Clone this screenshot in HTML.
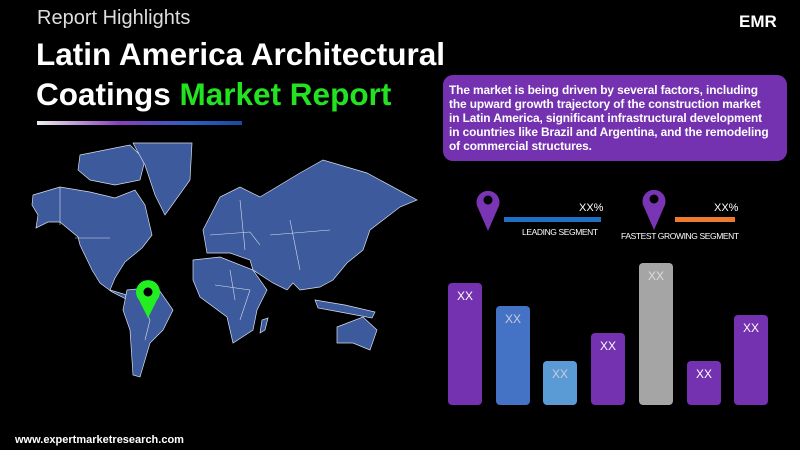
<!DOCTYPE html>
<html><head><meta charset="utf-8"><style>
body{margin:0;width:800px;height:450px;background:#000;overflow:hidden;position:relative;font-family:"Liberation Sans",sans-serif;color:#fff}
.a{position:absolute;white-space:nowrap}
.bar{position:absolute;border-radius:4px;bottom:45px;width:34px;text-align:center;font-size:12px;padding-top:6px;box-sizing:border-box}
</style></head><body>
<div class="a" style="left:37px;top:7px;font-size:20px;font-weight:300;color:#ddd">Report Highlights</div>
<div class="a" style="left:36px;top:34px;font-size:31.5px;font-weight:bold;line-height:40px">Latin America Architectural<br>Coatings <span style="color:#22e222">Market Report</span></div>
<div class="a" style="left:37px;top:121px;width:205px;height:4px;background:linear-gradient(90deg,#eee,#8a3fc0 40%,#2a60c0 75%,#1a4aa0)"></div>
<div class="a" style="left:739px;top:12px;font-size:17px;font-weight:bold">EMR</div>
<div class="a" style="left:443px;top:75px;width:344px;height:86px;background:#7432b0;border-radius:10px"></div>
<div class="a" style="left:449px;top:83px;font-size:11.9px;font-weight:bold;line-height:14px;letter-spacing:-0.1px">The market is being driven by several factors, including<br>the upward growth trajectory of the construction market<br>in Latin America, significant infrastructural development<br>in countries like Brazil and Argentina, and the remodeling<br>of commercial structures.</div>
<svg class="a" style="left:0;top:0" width="800" height="450">
<g fill="#3d5a9c" stroke="#d8e0f0" stroke-width="0.7">
<polygon points="80,155 130,145 145,160 140,180 115,185 90,180 78,170"/>
<polygon points="133,143 192,143 190,180 165,215 155,195 145,165"/>
<polygon points="33,195 60,187 90,192 115,198 135,190 145,205 152,235 142,248 125,262 115,278 110,290 130,296 135,300 128,300 112,292 100,283 92,270 80,245 78,237 60,222 48,222 36,228 38,215 32,205"/>
<polygon points="127,290 157,287 173,310 163,330 150,343 140,377 133,375 130,330 123,310"/>
<polygon points="203,230 220,197 240,187 260,197 300,173 323,160 367,173 417,200 400,207 370,230 363,250 347,263 333,280 320,287 300,290 293,283 287,290 273,283 253,270 250,260 230,253 207,253"/>
<polygon points="193,260 220,257 253,270 267,290 257,310 253,330 233,343 227,317 200,297 193,280"/>
<polygon points="337,327 363,317 377,330 370,350 353,343 337,343"/>
<polygon points="315,300 345,305 375,312 372,318 340,312 318,308"/>
<polygon points="268,318 265,330 260,333 262,320"/>
</g>
<g stroke="#d8e0f0" stroke-width="0.6" fill="none">
<path d="M60,187 L60,225 M75,238 L110,238 M210,235 L250,232 L260,245 M240,200 L245,250 M270,235 L330,230 M290,220 L300,270 M215,285 L250,290 L240,320 M140,300 L150,320 L145,340 M230,270 L235,300"/>
</g>
<path d="M148,318 L139,300 A12,12 0 1 1 157,300 Z" fill="#22ee22"/><circle cx="148" cy="292" r="4.5" fill="#000"/>
<path d="M488,231 L478,208 A11.5,11.5 0 1 1 498,208 Z" fill="#7a35b5"/><circle cx="488" cy="200" r="4.5" fill="#000"/>
<path d="M654,230 L644,207 A11.5,11.5 0 1 1 664,207 Z" fill="#7a35b5"/><circle cx="654" cy="199" r="4.5" fill="#000"/>
</svg>
<div class="a" style="left:504px;top:217px;width:97px;height:5px;background:#1f6fc4"></div>
<div class="a" style="left:675px;top:217px;width:60px;height:5px;background:#ee7a30"></div>
<div class="a" style="left:579px;top:202px;font-size:11px">XX%</div>
<div class="a" style="left:714px;top:202px;font-size:11px">XX%</div>
<div class="a" style="left:522px;top:227px;font-size:8.5px;letter-spacing:-0.4px">LEADING SEGMENT</div>
<div class="a" style="left:621px;top:231px;font-size:8.5px;letter-spacing:-0.4px">FASTEST GROWING SEGMENT</div>
<div class="bar" style="left:448px;top:283px;background:#7432b0">XX</div>
<div class="bar" style="left:496px;top:306px;background:#4472c4;color:#ccd">XX</div>
<div class="bar" style="left:543px;top:361px;background:#5b9bd5;color:#ccd">XX</div>
<div class="bar" style="left:591px;top:333px;background:#7432b0">XX</div>
<div class="bar" style="left:639px;top:263px;background:#a5a5a5;color:#ddd">XX</div>
<div class="bar" style="left:687px;top:361px;background:#7432b0">XX</div>
<div class="bar" style="left:734px;top:315px;background:#7432b0">XX</div>
<div class="a" style="left:15px;top:434px;font-size:11px;font-weight:bold">www.expertmarketresearch.com</div>
</body></html>
